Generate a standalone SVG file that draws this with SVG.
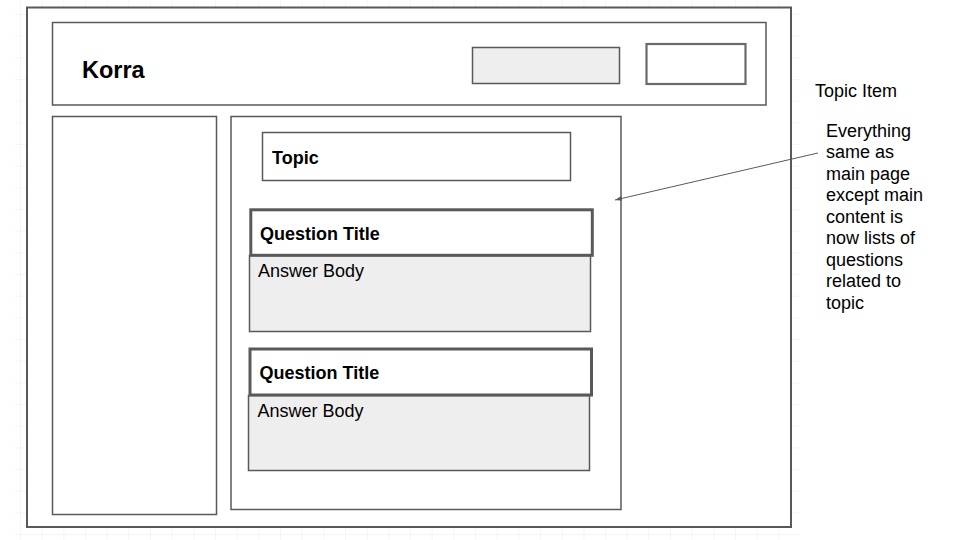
<svg xmlns="http://www.w3.org/2000/svg" width="960" height="540" viewBox="0 0 960 540">
<defs>
<pattern id="grid" x="20" y="14" width="21.67" height="21.67" patternUnits="userSpaceOnUse">
<path d="M0 0H21.67M0 0V21.67" fill="none" stroke="#ececec" stroke-width="1"/>
</pattern>
<marker id="arr" markerWidth="8" markerHeight="8" refX="7" refY="4" orient="auto" markerUnits="userSpaceOnUse">
<path d="M0 1.5L7 4L0 6.5Z" fill="#595959"/>
</marker>
</defs>
<style>
.box{fill:#fff;stroke:#595959;stroke-width:1.5}
.gray{fill:#eeeeee;stroke:#595959;stroke-width:1.5}
.title{fill:#fff;stroke:#595959;stroke-width:3}
.btn{fill:#fff;stroke:#6a6a6a;stroke-width:2.2}
.frame{fill:#fff;stroke:#595959;stroke-width:2}
text{font-family:"Liberation Sans",Arial,sans-serif;font-size:18px;fill:#000}
.b{font-weight:bold}
</style>
<rect x="0" y="0" width="960" height="540" fill="#fff"/>
<rect x="15" y="0" width="785" height="540" fill="url(#grid)"/>
<g id="frame"><rect class="frame" x="27" y="7.5" width="764" height="519.5"/></g>
<g id="header">
<rect class="box" x="52.5" y="22.5" width="713.5" height="82.5"/>
<text class="b" x="82" y="78" style="font-size:23.5px">Korra</text>
</g>
<g id="search"><rect class="gray" x="472.5" y="47.5" width="147" height="36"/></g>
<g id="button"><rect class="btn" x="646.5" y="44" width="99" height="40"/></g>
<g id="sidebar"><rect class="box" x="52.5" y="116.5" width="164" height="398"/></g>
<g id="main"><rect class="box" x="231" y="116.5" width="390" height="393"/></g>
<g id="topic">
<rect class="box" x="262.5" y="132.5" width="308" height="48"/>
<text class="b" x="272" y="164">Topic</text>
</g>
<g id="question1">
<rect class="gray" x="249.5" y="255.5" width="341" height="76"/>
<rect class="title" x="250.8" y="209.8" width="341.5" height="45.5"/>
<text class="b" x="260" y="240">Question Title</text>
<text x="258" y="277">Answer Body</text>
</g>
<g id="question2">
<rect class="gray" x="248.5" y="395.5" width="341" height="75"/>
<rect class="title" x="250" y="349" width="341.5" height="46"/>
<text class="b" x="259.5" y="379">Question Title</text>
<text x="257.5" y="417">Answer Body</text>
</g>
<g id="connectors">
<line x1="818" y1="153" x2="615" y2="200" stroke="#595959" stroke-width="1" marker-end="url(#arr)"/>
</g>
<g id="note">
<text x="815" y="97">Topic Item</text>
<text x="826" y="136.5">Everything</text>
<text x="826" y="158">same as</text>
<text x="826" y="179.5">main page</text>
<text x="826" y="201">except main</text>
<text x="826" y="222.5">content is</text>
<text x="826" y="244">now lists of</text>
<text x="826" y="265.5">questions</text>
<text x="826" y="287">related to</text>
<text x="826" y="308.5">topic</text>
</g>
</svg>
